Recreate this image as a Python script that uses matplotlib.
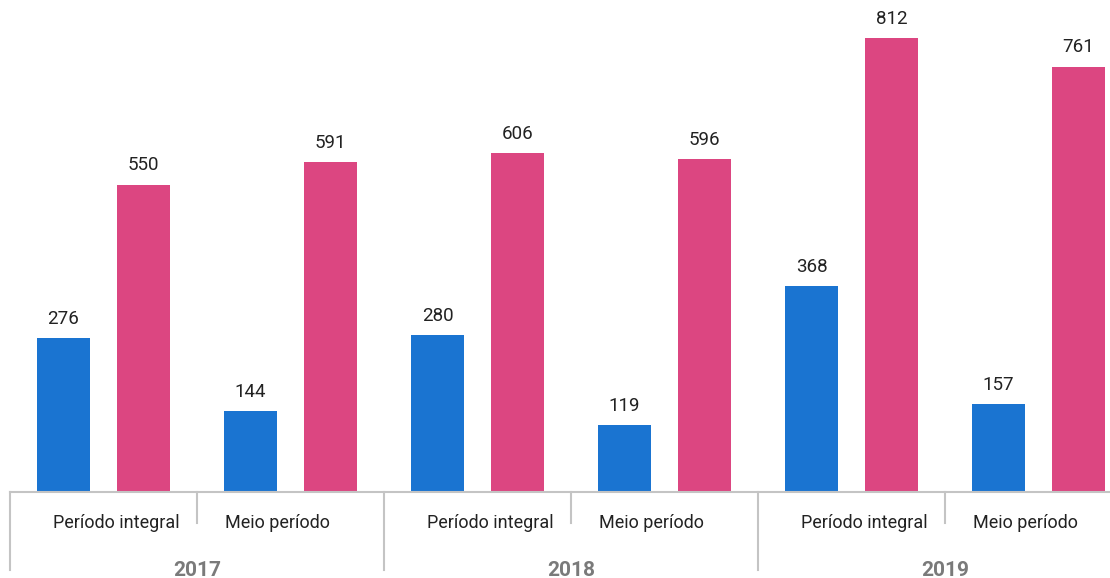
import matplotlib.pyplot as plt
import numpy as np

years = ['2017', '2018', '2019']
periods = ['Período integral', 'Meio período']
blue_vals = [276, 144, 280, 119, 368, 157]
pink_vals = [550, 591, 606, 596, 812, 761]

plt.rcParams['font.family'] = ['Roboto', 'DejaVu Sans']

W, H = 1110, 578
fig = plt.figure(figsize=(W / 100, H / 100), dpi=100, facecolor='white')
# axes runs a bit past the right edge, like the original (last group is cut)
ax = fig.add_axes([10 / W, 86 / H, 1122 / W, 492 / H])

x = np.arange(len(blue_vals)) + 0.5
off, bw = 0.214, 0.285
ax.bar(x - off, blue_vals, width=bw, color='#1a74d1')
ax.bar(x + off, pink_vals, width=bw, color='#dc4681')

for xi, v in zip(x - off, blue_vals):
    ax.text(xi, v + 18, str(v), ha='center', va='bottom', fontsize=13.5, color='#222222')
for xi, v in zip(x + off, pink_vals):
    ax.text(xi, v + 18, str(v), ha='center', va='bottom', fontsize=13.5, color='#222222')

ax.set_xlim(0, 6)
ax.set_ylim(0, 880)
ax.axis('off')

trans = ax.get_xaxis_transform()
ax.plot([0, 6.2], [0, 0], transform=trans, color='#c4c4c4', lw=1.5, clip_on=False)

short = -31 / 492
long_ = -78 / 492
for k in range(7):
    y1 = long_ if k % 2 == 0 else short
    ax.plot([k, k], [0, y1], transform=trans, color='#c4c4c4', lw=1.5, clip_on=False)

# sub labels sit a little toward the short separator
for i, xi in enumerate(x):
    shift = 0.067 if i % 2 == 0 else -0.07
    ax.text(xi + shift, -31 / 492, periods[i % 2], transform=trans, ha='center', va='center',
            fontsize=13, color='#222222', clip_on=False)

for j, yr in enumerate(years):
    ax.text(2 * j + 1, -78 / 492, yr, transform=trans, ha='center', va='center',
            fontsize=15, fontweight='bold', color='#7a7a7a', clip_on=False)

fig.savefig('out.png', dpi=100, facecolor='white')
